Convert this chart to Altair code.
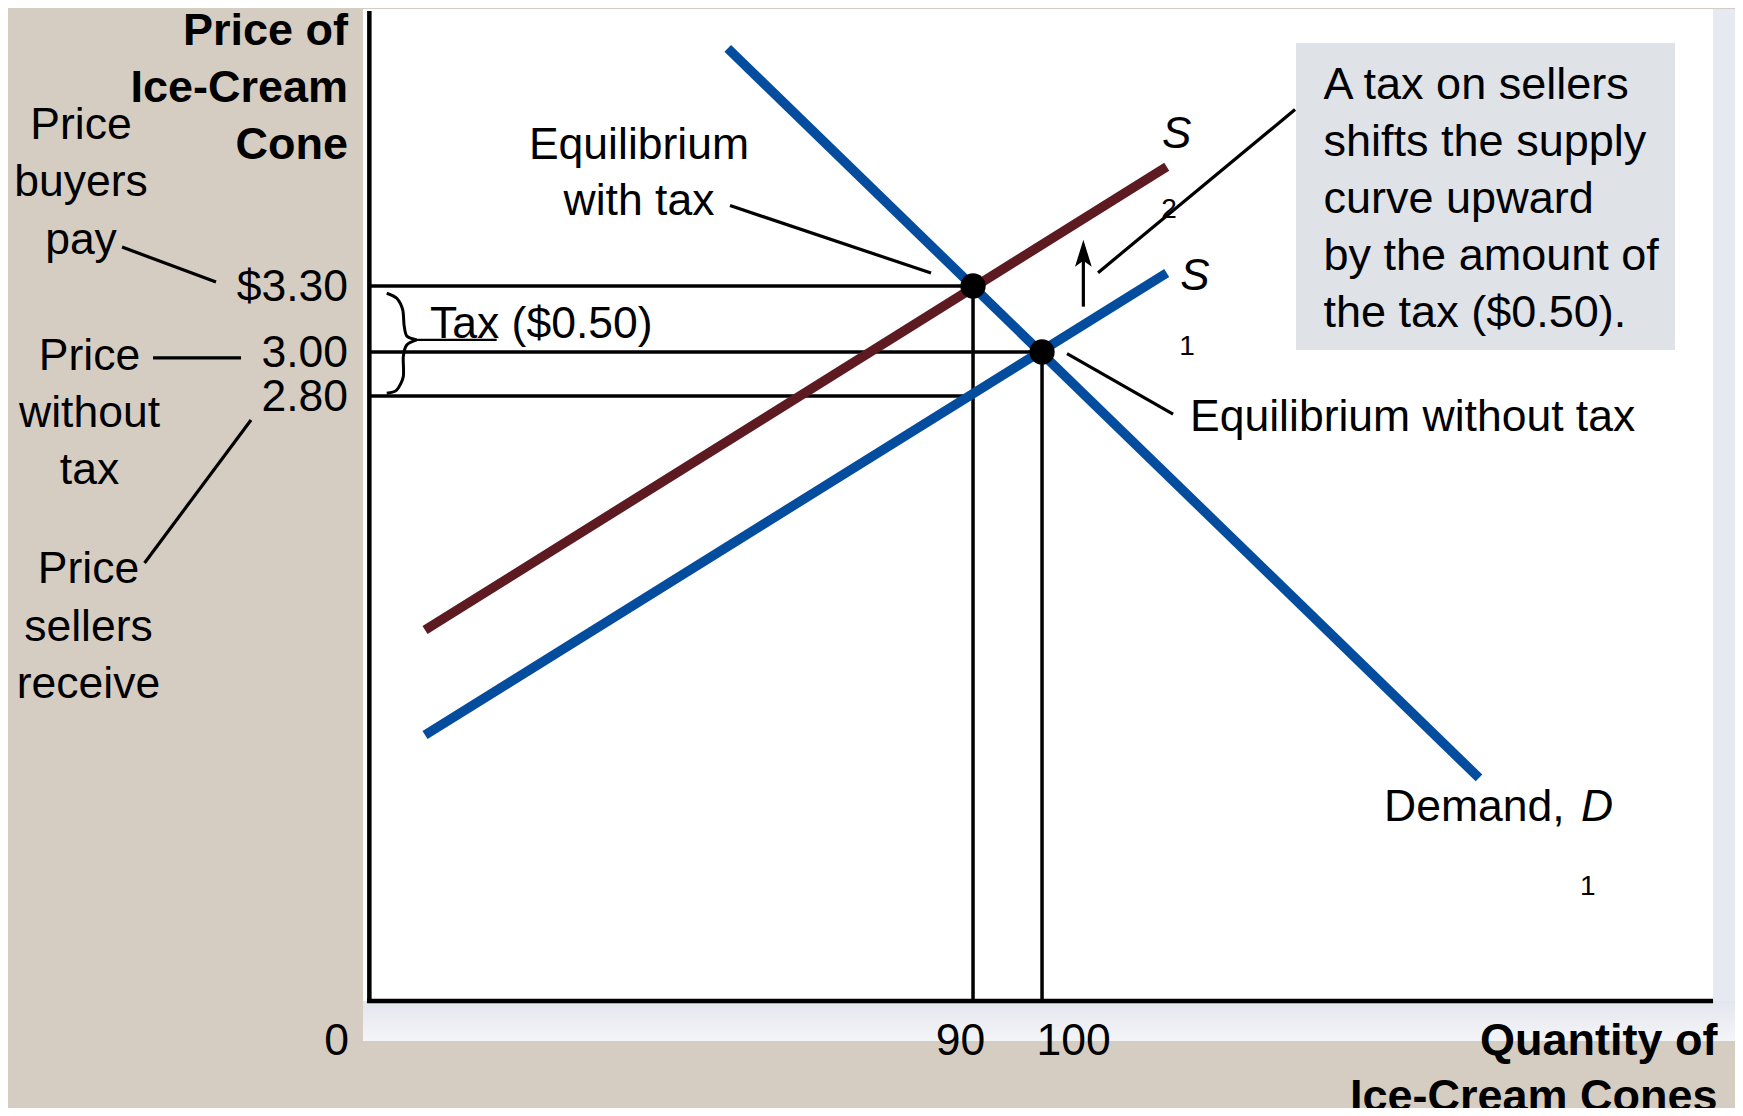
import altair as alt
import pandas as pd

# ---------------- data ----------------
# curves: quantity (cones) and price ($)
demand_q = [54.45, 163.33]
demand_p = [4.380, 1.064]
s1_q = [10.58, 118.07]
s1_p = [1.259, 3.359]
s2_q = [10.58, 118.07]
s2_p = [1.736, 3.842]

# equilibria
eq_q = [90, 100]
eq_p = [3.30, 3.00]

# price ticks (buyers pay, without tax, sellers receive)
price_ticks = [3.30, 3.00, 2.80]
price_labels = ["$3.30", "3.00", "2.80"]
price_line_end_q = [90, 100, 90]

# quantity ticks
qty_ticks = [0, 90, 100]
qty_labels = ["0", "90", "100"]

# ---------------- frame ----------------
Q_MIN, Q_MAX = -49.86, 200.43
P_MIN, P_MAX = -0.4364, 4.5636
Q_AXIS, P_AXIS = 2.51, 0.05
Q_RIGHT, P_TOP = 197.25, 4.55
FONT = "Liberation Sans"
FS = 44.5

xs = alt.Scale(domain=[Q_MIN, Q_MAX], nice=False, zero=False)
ys = alt.Scale(domain=[P_MIN, P_MAX], nice=False, zero=False)
X = alt.X("q:Q", scale=xs, axis=None)
Y = alt.Y("p:Q", scale=ys, axis=None)


def rect(q1, q2, p1, p2, color):
    df = pd.DataFrame({"q": [q1], "q2": [q2], "p": [p1], "p2": [p2]})
    return alt.Chart(df).mark_rect(color=color).encode(x=X, x2="q2:Q", y=Y, y2="p2:Q")


def segs(q1, p1, q2, p2, width=3, color="black"):
    df = pd.DataFrame({"q": q1, "p": p1, "q2": q2, "p2": p2})
    return alt.Chart(df).mark_rule(color=color, strokeWidth=width).encode(
        x=X, y=Y, x2="q2:Q", y2="p2:Q")


def curve(q, p, color, width=9.5):
    df = pd.DataFrame({"q": q, "p": p})
    return alt.Chart(df).mark_line(color=color, strokeWidth=width).encode(x=X, y=Y)


def txt(q, p, text, align="center", size=FS, weight="normal", style="normal",
        lh=57, dx=0):
    # for multi-line text, p is the centre of the first line
    df = pd.DataFrame({"q": [q], "p": [p]})
    return alt.Chart(df).mark_text(
        text=text, align=align, baseline="middle", fontSize=size,
        fontWeight=weight, fontStyle=style, font=FONT, lineHeight=lh,
        color="black", dx=dx).encode(x=X, y=Y)


layers = []
# backgrounds
layers.append(rect(1.59, Q_MAX, -0.132, 4.559, "#e6e9f1"))
layers.append(rect(1.59, Q_MAX, -0.132, P_AXIS, alt.LinearGradient(
    gradient="linear", x1=0, x2=0, y1=0, y2=1,
    stops=[alt.GradientStop(offset=0, color="#e3e6ee"),
           alt.GradientStop(offset=1, color="#f4f5f8")])))
layers.append(rect(1.59, Q_RIGHT, P_AXIS, 4.559, "#ffffff"))
layers.append(rect(136.81, 191.74, 3.009, 4.4045, "#dfe2e7"))

# guide lines at the equilibrium prices and quantities
layers.append(segs([Q_AXIS] * 3, price_ticks, price_line_end_q, price_ticks, 3.5))
layers.append(segs(eq_q, [P_AXIS] * 2, eq_q, eq_p, 3.5))

# axes
layers.append(segs([Q_AXIS, 2.17], [P_TOP, P_AXIS], [Q_AXIS, Q_RIGHT], [P_AXIS, P_AXIS], 4.5))

# leader lines
layers.append(segs(
    [-33.33, -28.84, -14.64, 54.78, 103.62, 108.12],
    [3.477, 2.973, 2.691, 3.6655, 2.993, 3.3605],
    [-19.71, -16.09, -30.07, 83.91, 118.99, 136.67],
    [3.318, 2.973, 2.041, 3.359, 2.718, 4.102], 3.2))

# brace for the tax
brace = pd.DataFrame({
    "q": [5.03, 6.48, 7.35, 7.54, 7.93, 9.38,
          9.38, 7.93, 7.43, 7.43, 6.48, 5.03],
    "p": [3.267, 3.244, 3.191, 3.123, 3.073, 3.055,
          3.055, 3.032, 2.979, 2.888, 2.827, 2.812],
    "half": ["a"] * 6 + ["b"] * 6,
    "i": list(range(12)),
})
layers.append(alt.Chart(brace).mark_line(
    color="black", strokeWidth=3, interpolate="cardinal", tension=0.2).encode(
    x=X, y=Y, detail="half:N", order="i:Q"))
layers.append(segs([9.38], [3.055], [20.97], [3.055], 2.4))

# curves
layers.append(curve(s2_q, s2_p, "#5e1a21"))
layers.append(curve(s1_q, s1_p, "#034c9e"))
layers.append(curve(demand_q, demand_p, "#034c9e"))

# equilibrium points
layers.append(alt.Chart(pd.DataFrame({"q": eq_q, "p": eq_p})).mark_circle(
    size=640, color="black", opacity=1).encode(x=X, y=Y))

# upward shift arrow
layers.append(segs([105.99], [3.206], [105.99], [3.42], 3.2))
layers.append(alt.Chart(pd.DataFrame({"q": [105.99], "p": [3.4486]})).mark_point(
    shape="M0,-1L0.62,1L0,0.55L-0.62,1Z", size=729, filled=True,
    color="black", opacity=1, strokeWidth=0).encode(x=X, y=Y))

# price tick labels
layers.append(alt.Chart(pd.DataFrame({"p": price_ticks, "label": price_labels,
                                      "q": [-0.58] * 3})).mark_text(
    align="right", baseline="middle", fontSize=FS, font=FONT, color="black", dy=2).encode(
    x=X, y=Y, text="label:N"))

# quantity tick labels
for qv, lab, dx in zip(qty_ticks, qty_labels, [-15.5, -12.5, 31.5]):
    layers.append(txt(qv, -0.136, lab, dx=dx))

# axis titles
layers.append(txt(-0.58, 4.459, ["Price of", "Ice-Cream", "Cone"], align="right",
                  size=45, weight="bold", lh=57))
layers.append(txt(197.9, -0.1318, ["Quantity of", "Ice-Cream Cones"], align="right",
                  size=45, weight="bold", lh=56))

# side notes
layers.append(txt(-39.28, 4.0273, ["Price", "buyers", "pay"], lh=57.5))
layers.append(txt(-38.04, 2.9773, ["Price", "without", "tax"], lh=57))
layers.append(txt(-38.19, 2.009, ["Price", "sellers", "receive"], lh=57.5))

# in-plot annotations
layers.append(txt(41.59, 3.9364, ["Equilibrium", "with tax"], lh=56))
layers.append(txt(11.30, 3.1227, "Tax ($0.50)", align="left"))
layers.append(txt(121.45, 2.70, "Equilibrium without tax", align="left"))
layers.append(txt(140.80, 4.2136, ["A tax on sellers", "shifts the supply",
                                   "curve upward", "by the amount of",
                                   "the tax ($0.50)."], align="left", size=45, lh=57))
layers.append(txt(119.52, 3.985, "S", size=44, style="italic"))
layers.append(txt(118.41, 3.645, "2", size=28))
layers.append(txt(122.17, 3.34, "S", size=44, style="italic"))
layers.append(txt(121.01, 3.0227, "1", size=28))
layers.append(txt(149.57, 0.927, "Demand,", align="left"))
layers.append(txt(180.43, 0.927, "D", style="italic"))
layers.append(txt(179.09, 0.5695, "1", size=28))

chart = alt.layer(*layers).properties(
    width=1727, height=1100, padding=0,
    autosize=alt.AutoSizeParams(type="none"),
    background="#d6cdc2",
).configure_view(stroke=None)

chart.save("out.html", embed_options={"renderer": "svg", "actions": False})
